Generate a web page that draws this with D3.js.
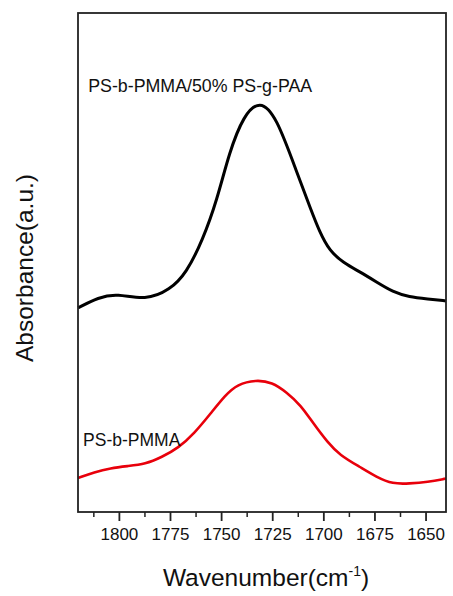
<!DOCTYPE html>
<html>
<head>
<meta charset="utf-8">
<script src="https://cdn.jsdelivr.net/npm/d3@7"></script>
<style>
  body { margin: 0; background: #fff; }
  text { font-family: Arial, "Liberation Sans", sans-serif; fill: #111; }
</style>
</head>
<body>
<div id="chart"></div>
<script>
// Wavenumbers (cm-1), high to low
const blendWave = [1820, 1810, 1801, 1787, 1775, 1767, 1759, 1752, 1746, 1739, 1731, 1723, 1713, 1706, 1702, 1697, 1690, 1682, 1674, 1666, 1658, 1649, 1640];
// PS-b-PMMA/50% PS-g-PAA absorbance (a.u.)
const blendAbs = [0.409, 0.430, 0.438, 0.424, 0.445, 0.479, 0.545, 0.625, 0.721, 0.795, 0.826, 0.793, 0.681, 0.605, 0.563, 0.523, 0.499, 0.481, 0.461, 0.441, 0.431, 0.427, 0.423];

const pureWave = [1820, 1812, 1804, 1796, 1787, 1779, 1771, 1763, 1755, 1748, 1742, 1733, 1725, 1718, 1711, 1705, 1698, 1692, 1682, 1674, 1666, 1658, 1649, 1640];
// PS-b-PMMA absorbance (a.u.)
const pureAbs = [0.068, 0.080, 0.088, 0.092, 0.096, 0.110, 0.128, 0.158, 0.198, 0.234, 0.256, 0.265, 0.260, 0.240, 0.214, 0.178, 0.140, 0.114, 0.090, 0.070, 0.056, 0.057, 0.060, 0.067];

const xTicks = [1800, 1775, 1750, 1725, 1700, 1675, 1650];

const W = 453, H = 596;
const margin = { top: 13, right: 7, bottom: 84, left: 78 };

const svg = d3.select("#chart").append("svg")
  .attr("width", W)
  .attr("height", H);

// reversed axis, as usual for IR spectra
const x = d3.scaleLinear()
  .domain([1820, 1640])
  .range([margin.left, W - margin.right]);

const y = d3.scaleLinear()
  .domain([0, 1])
  .range([H - margin.bottom, margin.top]);

// basis keeps the hand-read points from making kinks
const line = d3.line()
  .x(d => x(d[0]))
  .y(d => y(d[1]))
  .curve(d3.curveBasis);

const blend = d3.zip(blendWave, blendAbs);
const pure = d3.zip(pureWave, pureAbs);

svg.append("path")
  .attr("d", line(blend))
  .attr("fill", "none")
  .attr("stroke", "#000")
  .attr("stroke-width", 3);

svg.append("path")
  .attr("d", line(pure))
  .attr("fill", "none")
  .attr("stroke", "#e8000b")
  .attr("stroke-width", 2.6);

// minor ticks every 12.5
const minor = d3.range(1812.5, 1640, -12.5).filter(v => !xTicks.includes(v));
svg.append("g")
  .attr("transform", `translate(0,${H - margin.bottom})`)
  .call(d3.axisBottom(x).tickValues(minor).tickSize(5).tickFormat(""))
  .call(g => g.select(".domain").remove())
  .call(g => g.selectAll("line").attr("stroke", "#222").attr("stroke-width", 1.5));

const xAxis = svg.append("g")
  .attr("transform", `translate(0,${H - margin.bottom})`)
  .call(d3.axisBottom(x).tickValues(xTicks).tickSize(9).tickPadding(7).tickFormat(d3.format("d")));
xAxis.select(".domain").remove();
xAxis.selectAll("line").attr("stroke", "#222").attr("stroke-width", 1.8);
xAxis.selectAll("text")
  .style("font-size", "17px")
  .style("font-family", "Arial, 'Liberation Sans', sans-serif")
  .attr("fill", "#111");

// frame
svg.append("rect")
  .attr("x", margin.left)
  .attr("y", margin.top)
  .attr("width", W - margin.left - margin.right)
  .attr("height", H - margin.top - margin.bottom)
  .attr("fill", "none")
  .attr("stroke", "#222")
  .attr("stroke-width", 1.8);

// axis titles
const xt = svg.append("text")
  .attr("x", (margin.left + W - margin.right) / 2 + 4)
  .attr("y", 586)
  .attr("text-anchor", "middle")
  .style("font-size", "24.5px");
xt.append("tspan").text("Wavenumber(cm");
xt.append("tspan").text("-1").attr("dy", -10).style("font-size", "14px");
xt.append("tspan").text(")").attr("dy", 10);

svg.append("text")
  .attr("transform", "translate(33,268) rotate(-90)")
  .attr("text-anchor", "middle")
  .style("font-size", "24.5px")
  .text("Absorbance(a.u.)");

// curve labels
svg.append("text")
  .attr("x", x(1815))
  .attr("y", y(0.842))
  .style("font-size", "17.8px")
  .text("PS-b-PMMA/50% PS-g-PAA");

svg.append("text")
  .attr("x", x(1817.5))
  .attr("y", y(0.132))
  .style("font-size", "17.5px")
  .text("PS-b-PMMA");
</script>
</body>
</html>
